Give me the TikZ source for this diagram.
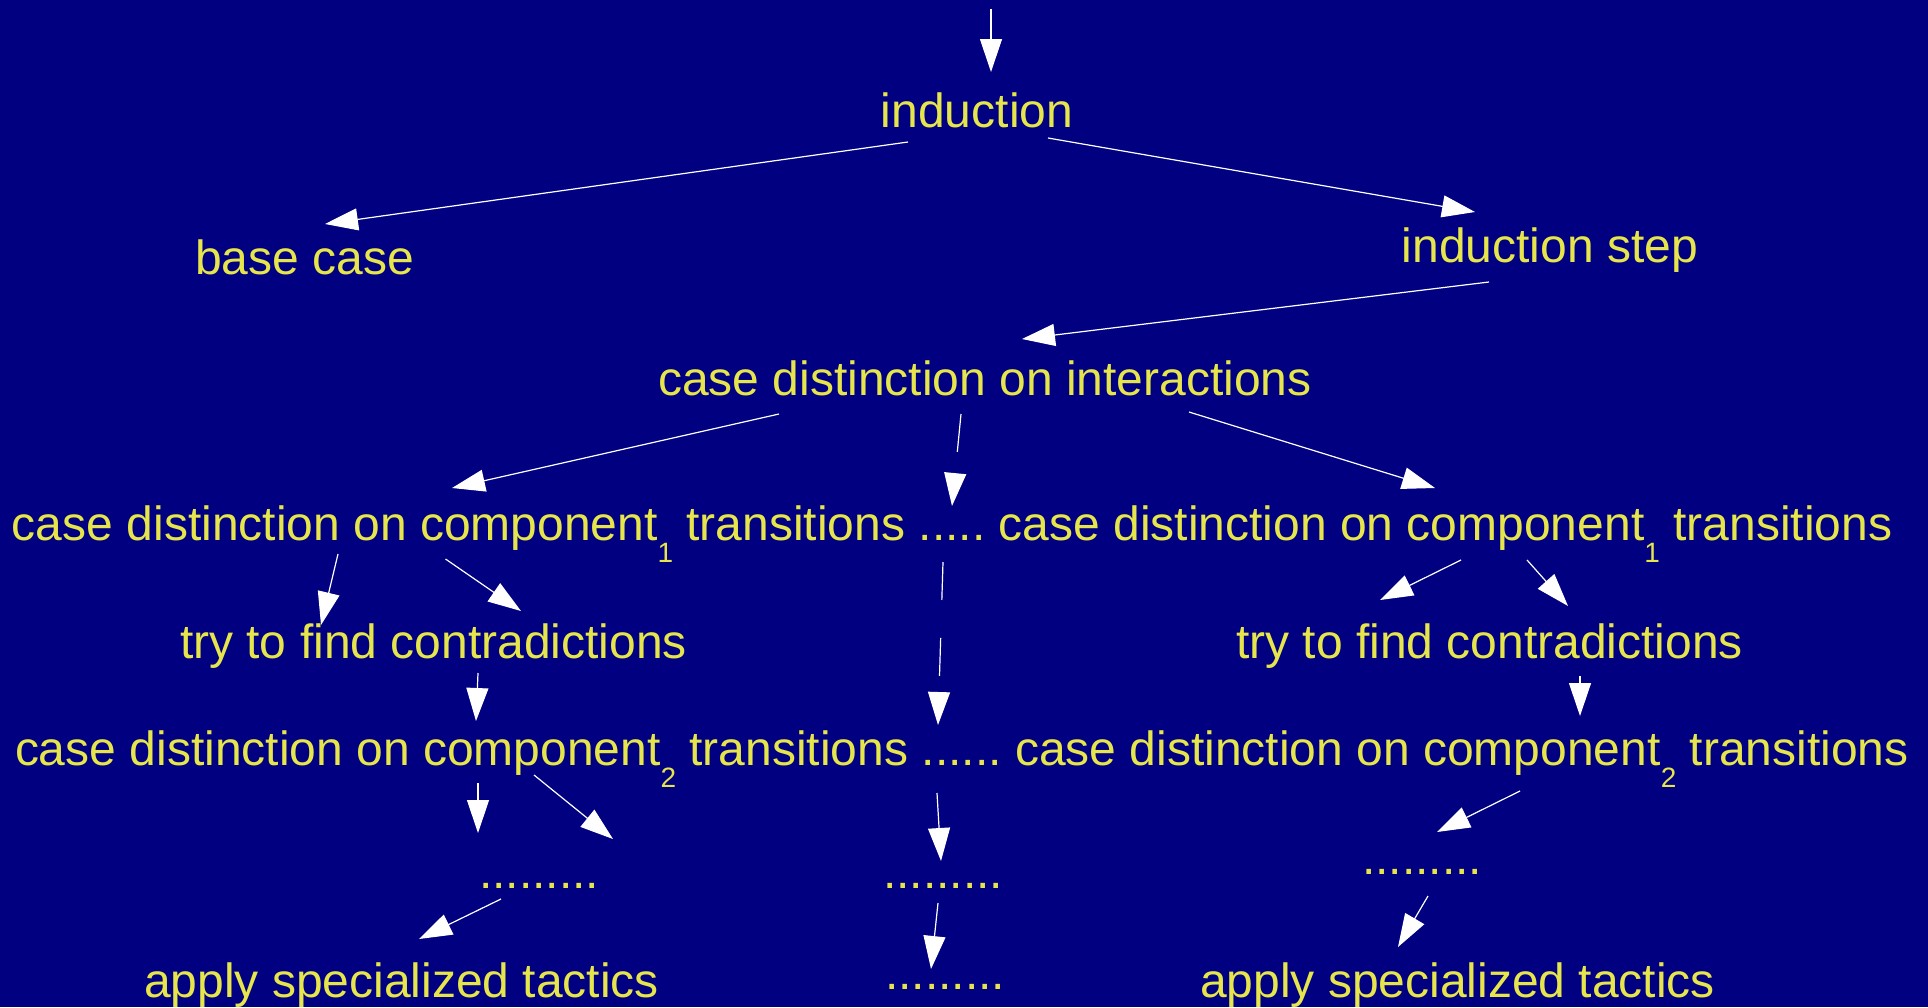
\documentclass[tikz,border=0pt]{standalone}
\usepackage{fontspec}
\setmainfont{Liberation Sans}
\usetikzlibrary{arrows.meta}
\definecolor{slidebg}{RGB}{0,0,128}
\definecolor{slidetext}{RGB}{230,230,76}
% lowered index after "component"
\newcommand\subidx[1]{\raisebox{-22pt}{\fontsize{28}{28}\selectfont #1}}
\begin{document}
\begin{tikzpicture}[x=1pt,y=-1pt,
  lbl/.style={inner sep=0pt, outer sep=0pt, text=slidetext,
              font=\fontsize{48}{58}\selectfont},
  flow/.style={draw=white, line width=1.2pt,
               -{Triangle[length=33pt,width=22pt]}},
  gapflow/.style={flow, dash pattern=on 38pt off 38pt}]

  % page and background
  \path[use as bounding box, clip] (0,0) rectangle (1928,1007);
  \fill[slidebg] (0,0) rectangle (1928,1007);

  % proof steps
  \node[lbl, anchor=base]      (ind)   at (977,127)  {induction};
  \node[lbl, anchor=base west] (base)  at (195,274)  {base case};
  \node[lbl, anchor=base]      (step)  at (1550,262) {induction step};
  \node[lbl, anchor=base west] (inter) at (658,395)  {case distinction on interactions};

  \node[lbl, anchor=base west] (c1l) at (12,540)
        {case distinction on component\subidx{1} transitions};
  \node[lbl, anchor=base west, xshift=13.34pt] (c1d) at (c1l.base east) {.....};
  \node[lbl, anchor=base west, xshift=13.34pt] (c1r) at (c1d.base east)
        {case distinction on component\subidx{1} transitions};

  \node[lbl, anchor=base west] (tryl) at (180,658)  {try to find contradictions};
  \node[lbl, anchor=base east] (tryr) at (1743,658) {try to find contradictions};

  \node[lbl, anchor=base west] (c2l) at (15,765)
        {case distinction on component\subidx{2} transitions};
  \node[lbl, anchor=base west, xshift=13.34pt] (c2d) at (c2l.base east) {......};
  \node[lbl, anchor=base west, xshift=13.34pt] (c2r) at (c2d.base east)
        {case distinction on component\subidx{2} transitions};

  \node[lbl, anchor=base west] (dl)  at (479,888)  {.........};
  \node[lbl, anchor=base west] (dm1) at (883,888)  {.........};
  \node[lbl, anchor=base west] (dm2) at (885,989)  {.........};
  \node[lbl, anchor=base west] (dr)  at (1362,874) {.........};

  \node[lbl, anchor=base west] (appl) at (144,997)  {apply specialized tactics};
  \node[lbl, anchor=base east] (appr) at (1715,997) {apply specialized tactics};

  % connector end points
  \coordinate (entry)    at (991,9);
  \coordinate (ind-n)    at (991,72);
  \coordinate (ind-sw)   at (908,142);
  \coordinate (base-ne)  at (325,224);
  \coordinate (ind-se)   at (1048,138);
  \coordinate (step-nw)  at (1475,212);
  \coordinate (step-s)   at (1489,282);
  \coordinate (inter-ne) at (1022,339);
  \coordinate (inter-sw) at (779,414);
  \coordinate (c1l-ne)   at (452,488);
  \coordinate (inter-s)  at (961,414);
  \coordinate (c1d-n)    at (952,506);
  \coordinate (inter-se) at (1189,412);
  \coordinate (c1r-n)    at (1435,488);
  \coordinate (c1l-s1)   at (338,554);
  \coordinate (tryl-n)   at (321,625);
  \coordinate (c1l-s2)   at (445.5,559);
  \coordinate (tryl-ne)  at (521,611);
  \coordinate (c1r-s1)   at (1461,560);
  \coordinate (tryr-n)   at (1380,600);
  \coordinate (c1r-s2)   at (1527,560);
  \coordinate (tryr-ne)  at (1568,606);
  \coordinate (tryl-s)   at (478,673);
  \coordinate (c2l-n)    at (476,721);
  \coordinate (tryr-s)   at (1580,676);
  \coordinate (c2r-n)    at (1580,716);
  \coordinate (c1d-s)    at (943,562);
  \coordinate (c2d-n)    at (938,725);
  \coordinate (c2l-s1)   at (478,783);
  \coordinate (dl-n)     at (478,833);
  \coordinate (c2l-s2)   at (534,775);
  \coordinate (c2l-out)  at (613,839);
  \coordinate (c2d-s)    at (937,793);
  \coordinate (dm1-n)    at (941,861);
  \coordinate (dm1-s)    at (938,903);
  \coordinate (dm2-n)    at (931,969);
  \coordinate (c2r-s)    at (1520,791);
  \coordinate (dr-n)     at (1437,832);
  \coordinate (dl-s)     at (501,899);
  \coordinate (appl-n)   at (419,939);
  \coordinate (dr-s)     at (1428,896);
  \coordinate (appr-n)   at (1398,947);

  % connectors
  \draw[flow]    (entry)    -- (ind-n);
  \draw[flow]    (ind-sw)   -- (base-ne);
  \draw[flow]    (ind-se)   -- (step-nw);
  \draw[flow]    (step-s)   -- (inter-ne);
  \draw[flow]    (inter-sw) -- (c1l-ne);
  \draw[gapflow] (inter-s)  -- (c1d-n);
  \draw[flow]    (inter-se) -- (c1r-n);
  \draw[flow]    (c1l-s1)   -- (tryl-n);
  \draw[flow]    (c1l-s2)   -- (tryl-ne);
  \draw[flow]    (c1r-s1)   -- (tryr-n);
  \draw[flow]    (c1r-s2)   -- (tryr-ne);
  \draw[flow]    (tryl-s)   -- (c2l-n);
  \draw[flow]    (tryr-s)   -- (c2r-n);
  \draw[gapflow] (c1d-s)    -- (c2d-n);
  \draw[flow]    (c2l-s1)   -- (dl-n);
  \draw[flow]    (c2l-s2)   -- (c2l-out);
  \draw[flow]    (c2d-s)    -- (dm1-n);
  \draw[flow]    (dm1-s)    -- (dm2-n);
  \draw[flow]    (c2r-s)    -- (dr-n);
  \draw[flow]    (dl-s)     -- (appl-n);
  \draw[flow]    (dr-s)     -- (appr-n);
\end{tikzpicture}
\end{document}
